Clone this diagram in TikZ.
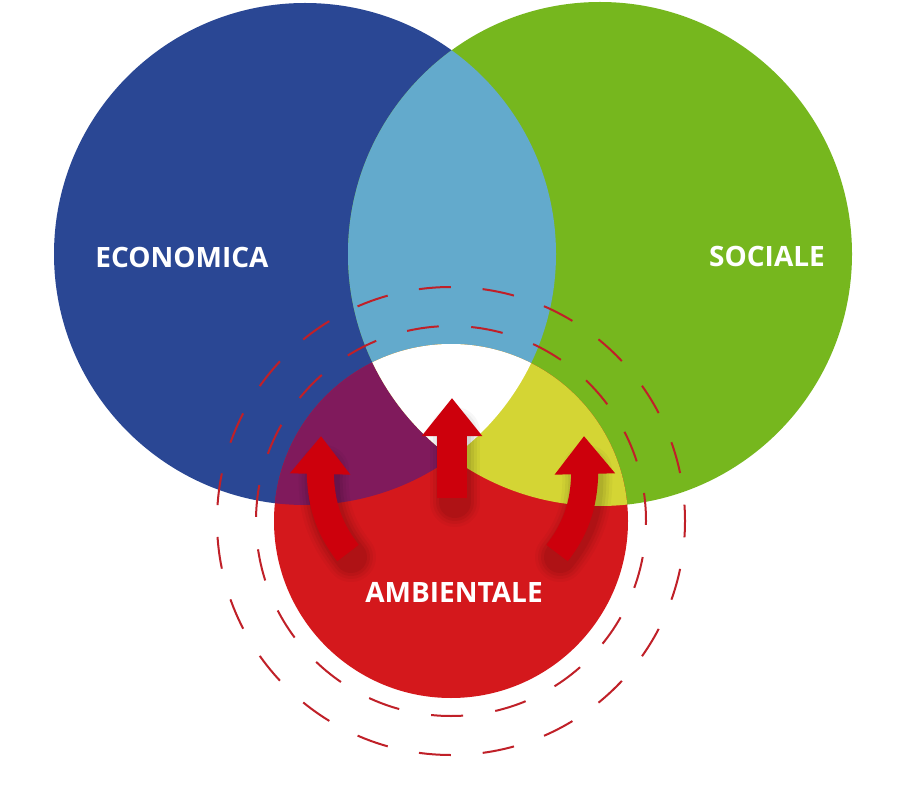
\documentclass[tikz,border=0pt]{standalone}
\usepackage{fontspec}
\setmainfont{Open Sans}
\usetikzlibrary{arrows.meta, bending, calc}

\definecolor{ecoblue}{RGB}{42,71,148}
\definecolor{socgreen}{RGB}{118,183,30}
\definecolor{ambred}{RGB}{212,24,28}
\definecolor{lensblue}{RGB}{99,170,204}
\definecolor{lenspurple}{RGB}{128,26,92}
\definecolor{lensyellow}{RGB}{212,213,52}
\definecolor{arrowred}{RGB}{205,0,12}
\definecolor{ringred}{RGB}{192,32,40}

\begin{document}
\begin{tikzpicture}[x=1pt, y=1pt,
    dimtext/.style={text=white, font=\bfseries\fontsize{28}{30}\selectfont},
    ring/.style={ringred, line width=2pt},
    uparrow/.style={arrowred, line width=#1, -{Triangle[length=38pt, width=58pt]}},
    blurry/.style={black, opacity=#1, line cap=round, transform canvas={shift={(3pt,-4pt)}}}]

  \useasboundingbox[fill=white] (0,0) rectangle (905,-810);

  % centres of the three circles
  \coordinate (ce) at (305,-254);
  \coordinate (cs) at (600,-254);
  \coordinate (ca) at (451,-521);

  \fill[ecoblue] (ce) circle[radius=251];
  \fill[socgreen] (cs) circle[radius=252];
  \fill[ambred] (ca) circle[radius=177];

  % overlaps
  \begin{scope}
    \clip (ce) circle[radius=251];
    \fill[lensblue] (cs) circle[radius=252];
    \fill[lenspurple] (ca) circle[radius=177];
  \end{scope}
  \begin{scope}
    \clip (cs) circle[radius=252];
    \fill[lensyellow] (ca) circle[radius=177];
    \clip (ce) circle[radius=251];
    \fill[white] (ca) circle[radius=177];
  \end{scope}

  \draw[ring, dash pattern=on 32pt off 31.9pt, dash phase=15.6pt] (ca) circle[radius=234];
  \draw[ring, dash pattern=on 32pt off 32.5pt, dash phase=3.9pt] (ca) circle[radius=195];

  % arrows
  \coordinate (lb) at (348,-553);
  \coordinate (lt) at (321,-436);
  \coordinate (mb) at (452,-498);
  \coordinate (mt) at (452,-398);
  \coordinate (rb) at (557,-553);
  \coordinate (rt) at (584,-436);

  \foreach \w/\o in {50/0.03, 44/0.04, 38/0.05, 32/0.06} {
    \draw[blurry=\o, line width=\w pt] (lb) to[out=128, in=-93] ($(lt)+(0,-30)$);
    \draw[blurry=\o, line width=\w pt] (mb) -- ($(mt)+(0,-30)$);
    \draw[blurry=\o, line width=\w pt] (rb) to[out=52, in=-87] ($(rt)+(0,-30)$);
  }

  \draw[uparrow=27pt] (lb) to[out=128, in=-93] (lt);
  \draw[uparrow=30pt] (mb) -- (mt);
  \draw[uparrow=27pt] (rb) to[out=52, in=-87] (rt);

  \node[dimtext] (economica) at (182,-257) {ECONOMICA};
  \node[dimtext] (sociale) at (767,-256) {SOCIALE};
  \node[dimtext] (ambientale) at (454,-592) {AMBIENTALE};
\end{tikzpicture}
\end{document}
